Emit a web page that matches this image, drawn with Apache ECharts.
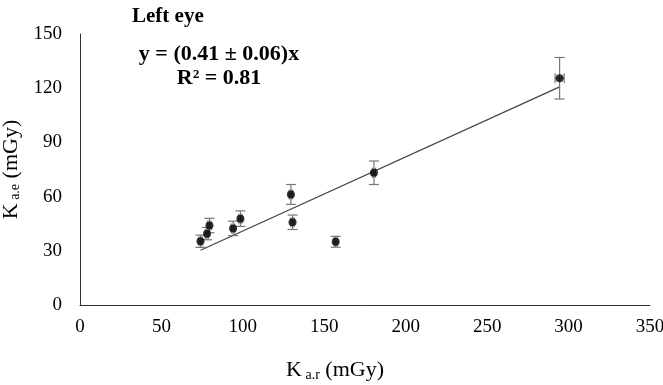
<!DOCTYPE html>
<html>
<head>
<meta charset="utf-8">
<script src="https://cdn.jsdelivr.net/npm/echarts@6/dist/echarts.min.js"></script>
<style>
  html, body { margin: 0; padding: 0; background: #fff; }
  #chart { width: 663px; height: 385px; }
</style>
</head>
<body>
<div id="chart"></div>
<script>
// measured air kerma (x) vs estimated entrance kerma (y), left eye
const kar = [74, 78, 79.5, 94, 98.5, 129.5, 130.5, 157, 180.5, 294.5]
const kae = [35.3, 39.5, 44, 42.4, 47.8, 61.2, 45.8, 35, 73.2, 125.5]
const yErr = [3.4, 3.4, 4, 4, 4.3, 5.5, 4, 3, 6.5, 11.5]
const xErr = [1, 1, 1, 1, 1, 1, 1, 1, 1, 2.8]
const slope = 0.41
const xTicks = [0, 50, 100, 150, 200, 250, 300, 350]
const yTicks = [0, 30, 60, 90, 120, 150]

const chart = echarts.init(document.getElementById('chart'))

const points = kar.map((x, i) => [x, kae[i]])
const bars = kar.map((x, i) => [x, kae[i], yErr[i], xErr[i]])
const xMin = Math.min(...kar)
const xMax = Math.max(...kar)
const fitLine = [[xMin, slope * xMin], [xMax, slope * xMax]]

const font = '"Liberation Serif", "Times New Roman", serif'

const axisName = {
  rich: {
    k: { fontSize: 22, fontFamily: font, color: '#000' },
    s: { fontSize: 14, fontFamily: font, color: '#000', padding: [9, 0, 0, 0] }
  }
}

const option = {
  animation: false,
  textStyle: { fontFamily: font },
  grid: { left: 80, right: 13, top: 34, bottom: 80, outerBoundsMode: 'none' },
  title: [
    {
      text: 'Left eye',
      left: 127, top: 1,
      textStyle: { fontFamily: font, fontSize: 21, fontWeight: 'bold', color: '#000' }
    },
    {
      text: 'y = (0.41 ± 0.06)x\nR² = 0.81',
      left: 214, top: 37,
      textAlign: 'center',
      textStyle: { fontFamily: font, fontSize: 22, fontWeight: 'bold', color: '#000', lineHeight: 24, align: 'center' }
    }
  ],
  xAxis: {
    type: 'value',
    min: xTicks[0], max: xTicks[xTicks.length - 1], interval: 50,
    splitLine: { show: false },
    axisTick: { show: false },
    axisLine: { lineStyle: { color: '#333', width: 1 } },
    axisLabel: { color: '#000', fontSize: 19, fontFamily: font, margin: 13 },
    name: '{k|K}{s| a.r}{k| (mGy)}',
    nameLocation: 'middle',
    nameGap: 54,
    nameTextStyle: Object.assign({ padding: [0, 60, 0, 0] }, axisName)
  },
  yAxis: {
    type: 'value',
    min: yTicks[0], max: yTicks[yTicks.length - 1], interval: 30,
    splitLine: { show: false },
    axisTick: { show: false },
    axisLine: { show: true, lineStyle: { color: '#333', width: 1 } },
    axisLabel: { color: '#000', fontSize: 19, fontFamily: font, margin: 18 },
    name: '{k|K}{s| a.e}{k| (mGy)}',
    nameLocation: 'middle',
    nameGap: 54,
    nameTextStyle: axisName
  },
  series: [
    {
      type: 'line',
      data: fitLine,
      symbol: 'none',
      lineStyle: { color: '#444', width: 1.2 },
      z: 2
    },
    {
      type: 'custom',
      data: bars,
      z: 3,
      renderItem: (params, api) => {
        const x = api.value(0), y = api.value(1), ey = api.value(2), ex = api.value(3)
        const top = api.coord([x, y + ey])
        const bot = api.coord([x, y - ey])
        const left = api.coord([x - ex, y])
        const right = api.coord([x + ex, y])
        const cap = 5
        const style = { stroke: '#777', lineWidth: 1.2 }
        return {
          type: 'group',
          children: [
            { type: 'line', shape: { x1: top[0], y1: top[1], x2: bot[0], y2: bot[1] }, style },
            { type: 'line', shape: { x1: top[0] - cap, y1: top[1], x2: top[0] + cap, y2: top[1] }, style },
            { type: 'line', shape: { x1: bot[0] - cap, y1: bot[1], x2: bot[0] + cap, y2: bot[1] }, style },
            { type: 'line', shape: { x1: left[0], y1: left[1], x2: right[0], y2: right[1] }, style },
            { type: 'line', shape: { x1: left[0], y1: left[1] - cap, x2: left[0], y2: left[1] + cap }, style },
            { type: 'line', shape: { x1: right[0], y1: right[1] - cap, x2: right[0], y2: right[1] + cap }, style }
          ]
        }
      }
    },
    {
      type: 'scatter',
      data: points,
      symbol: 'circle',
      symbolSize: 8,
      itemStyle: { color: '#000' },
      z: 4
    }
  ]
}

chart.setOption(option)
</script>
</body>
</html>
